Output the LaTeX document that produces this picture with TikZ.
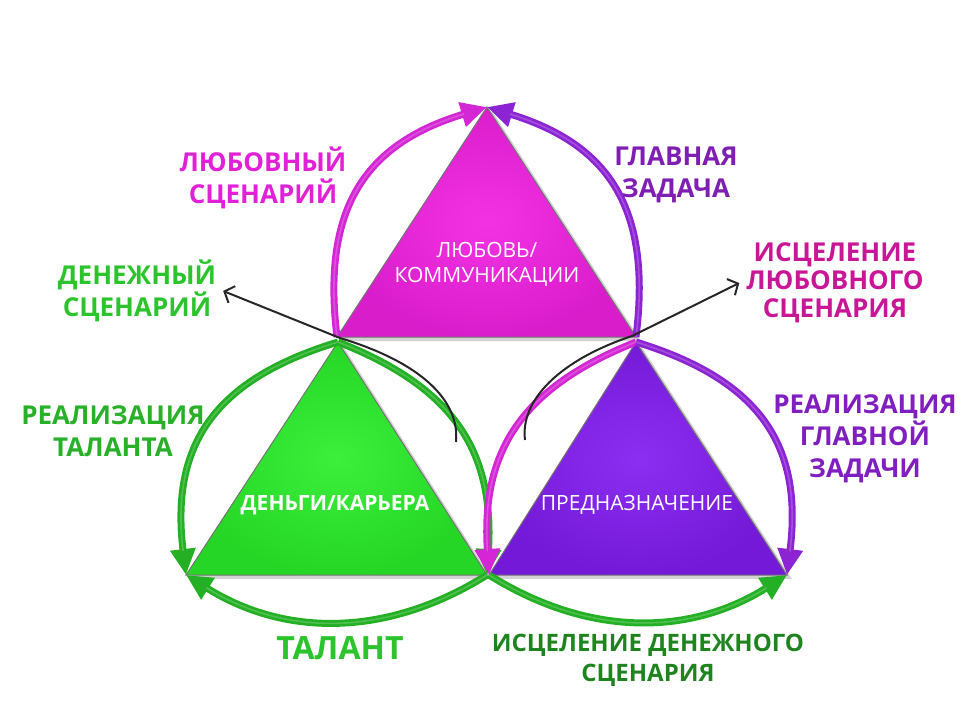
\documentclass[tikz,border=0pt]{standalone}
\usepackage{fontspec}
\setmainfont{Open Sans}
\usetikzlibrary{arrows.meta,positioning,shadows}

\definecolor{lovefill}{RGB}{242,32,226}
\definecolor{moneyfill}{RGB}{42,238,42}
\definecolor{purpfill}{RGB}{130,28,240}
\definecolor{lovearc}{RGB}{212,38,212}
\definecolor{purparc}{RGB}{140,36,212}
\definecolor{moneyarc}{RGB}{36,176,36}
\definecolor{lovetext}{RGB}{225,32,215}
\definecolor{healtext}{RGB}{200,22,150}
\definecolor{tasktext}{RGB}{128,30,180}
\definecolor{moneytext}{RGB}{44,196,44}
\definecolor{healmtext}{RGB}{30,132,30}

\tikzset{
  tri/.style={draw=black!55,line width=0.5pt,
    drop shadow={shadow xshift=2.5pt,shadow yshift=-2pt,opacity=.35}},
  cycarrow/.style={line width=3.5pt,-{Triangle[length=13pt,width=12pt]},
    postaction={draw=white,opacity=.2,line width=0.8pt,-,shorten >=12pt}},
  lab/.style={font=\bfseries\fontsize{13}{16}\selectfont,align=center},
  inlab/.style={text=white,font=\fontsize{10.5}{12.5}\selectfont,align=center},
  pointer/.style={black!85,line width=1pt,-{Straight Barb[length=4pt,width=9pt]}}
}

\begin{document}
\begin{tikzpicture}[x=0.5pt,y=-0.5pt]
\useasboundingbox (0,0) rectangle (980,720);

% corners of the three triangles
\coordinate (lovetop) at (487,107);
\coordinate (loveleft) at (337,337);
\coordinate (loveright) at (636,337);
\coordinate (moneytop) at (338,342);
\coordinate (moneyleft) at (186,575);
\coordinate (moneyright) at (487,575);
\coordinate (purptop) at (636,342);
\coordinate (purpleft) at (489,575);
\coordinate (purpright) at (787,575);

\shade[tri,inner color=lovefill!92!white,outer color=lovefill!90!black]
  (lovetop)--(loveleft)--(loveright)--cycle;
\shade[tri,inner color=moneyfill!92!white,outer color=moneyfill!90!black]
  (moneytop)--(moneyleft)--(moneyright)--cycle;
\shade[tri,inner color=purpfill!92!white,outer color=purpfill!90!black]
  (purptop)--(purpleft)--(purpright)--cycle;

\node[inlab] (love) at (487,264) {ЛЮБОВЬ/\\КОММУНИКАЦИИ};
\node[inlab,font=\bfseries\fontsize{10.5}{12.5}\selectfont] (money) at (335,505) {ДЕНЬГИ/КАРЬЕРА};
\node[inlab] (purp) at (637,505) {ПРЕДНАЗНАЧЕНИЕ};

% arcs round the triangles
\draw[cycarrow,lovearc] (loveleft) to[bend left=40,looseness=1.2] (lovetop);
\draw[cycarrow,purparc] (loveright) to[bend right=40,looseness=1.2] (lovetop);
\draw[cycarrow,moneyarc] (moneytop) to[bend right=40,looseness=1.2] (moneyleft);
\draw[cycarrow,moneyarc] (moneytop) to[bend left=36,looseness=1.15] (moneyright);
\draw[cycarrow,moneyarc] (moneyright) to[bend left=32] (moneyleft);
\draw[cycarrow,lovearc] (purptop) to[bend right=36,looseness=1.15] (purpleft);
\draw[cycarrow,purparc] (purptop) to[bend left=40,looseness=1.2] (purpright);
\draw[cycarrow,moneyarc] (purpleft) to[bend right=32] (purpright);

% labels
\node[lab,text=lovetext] (lovescen) at (263,178) {ЛЮБОВНЫЙ\\СЦЕНАРИЙ};
\node[lab,text=tasktext] (task) at (676,175) {ГЛАВНАЯ\\ЗАДАЧА};
\node[lab,text=moneytext] (moneyscen) at (137,291) {ДЕНЕЖНЫЙ\\СЦЕНАРИЙ};
\node[lab,text=healtext,font=\bfseries\fontsize{13}{14}\selectfont] (heallove) at (835,283) {ИСЦЕЛЕНИЕ\\ЛЮБОВНОГО\\СЦЕНАРИЯ};
\node[lab,text=moneytext!90!black] (talreal) at (113,431) {РЕАЛИЗАЦИЯ\\ТАЛАНТА};
\node[lab,text=tasktext!80!purpfill] (taskreal) at (865,439) {РЕАЛИЗАЦИЯ\\ГЛАВНОЙ\\ЗАДАЧИ};
\node[lab,text=moneytext,font=\bfseries\fontsize{16}{18}\selectfont] (talent) at (340,648) {ТАЛАНТ};
\node[lab,text=healmtext,font=\bfseries\fontsize{12}{15}\selectfont] (healmoney) at (648,660) {ИСЦЕЛЕНИЕ ДЕНЕЖНОГО\\СЦЕНАРИЯ};

% black pointers
\coordinate (hookL) at (456,442);
\coordinate (hookR) at (525,440);
\draw[pointer] (hookL) .. controls (460,400) and (420,362) .. (340,338) -- (moneyscen.east);
\draw[pointer] (hookR) .. controls (520,400) and (560,360) .. (632,336) -- (heallove.west);
\end{tikzpicture}
\end{document}
